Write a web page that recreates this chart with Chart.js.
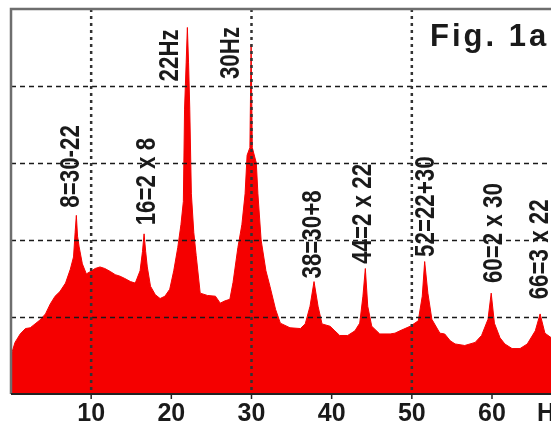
<!DOCTYPE html>
<html>
<head>
<meta charset="utf-8">
<title>Fig. 1a spectrum</title>
<script src="https://cdn.jsdelivr.net/npm/chart.js@4.4.1/dist/chart.umd.min.js"></script>
<style>
    html, body { margin: 0; padding: 0; background: #ffffff; overflow: hidden; }
    canvas { display: block; }
</style>
</head>
<body>
<canvas id="spectrumChart" width="551" height="434"></canvas>
<script>
// Spectrum values (frequency in Hz, amplitude in grid units)
const freqs = [
    0, 0.5, 1.15, 1.8, 2.4, 3.0, 3.6, 4.3, 4.9, 5.5, 6.1, 6.8, 7.4, 7.8, 8.0, 8.15, 8.3, 8.5, 8.9, 9.4,
    9.9, 10.5, 11.1, 11.7, 12.4, 13.0, 13.6, 14.2, 14.9, 15.5, 16.1, 16.4, 16.6, 16.8, 17.0, 17.4, 18.0, 18.6, 19.2, 19.8,
    20.3, 20.8, 21.2, 21.5, 21.65, 21.85, 22.0, 22.15, 22.3, 22.5, 22.8, 23.1, 23.6, 24.5, 25.5, 26.1, 26.7, 27.3, 27.7, 28.3,
    28.8, 29.2, 29.45, 29.8, 29.95, 30.1, 30.6, 30.8, 31.2, 31.8, 32.3, 33.0, 33.6, 34.8, 36.1, 36.7, 37.3, 37.8, 38.3, 38.8,
    39.8, 40.4, 41.0, 42.0, 42.9, 43.5, 43.9, 44.2, 44.5, 45.0, 46.0, 47.3, 47.9, 48.5, 49.8, 50.8, 51.3, 51.6, 52.0, 52.5,
    53.5, 54.1, 54.8, 55.4, 56.6, 57.9, 58.7, 59.5, 59.9, 60.3, 61.0, 61.6, 62.5, 63.5, 64.4, 65.4, 66.0, 66.6, 67.4
];
const amps = [
    0.50, 0.67, 0.78, 0.85, 0.86, 0.91, 0.96, 1.04, 1.17, 1.27, 1.33, 1.44, 1.62, 1.78, 2.10, 2.32, 2.05, 1.91, 1.69, 1.56,
    1.59, 1.63, 1.65, 1.63, 1.59, 1.55, 1.53, 1.50, 1.46, 1.44, 1.60, 1.85, 2.08, 1.85, 1.65, 1.40, 1.29, 1.24, 1.27, 1.36,
    1.60, 1.90, 2.20, 2.50, 3.70, 4.30, 4.76, 4.30, 3.70, 2.60, 2.10, 1.80, 1.31, 1.28, 1.27, 1.18, 1.21, 1.23, 1.45, 1.90,
    2.20, 2.60, 3.10, 3.20, 4.54, 3.20, 3.00, 2.60, 2.00, 1.60, 1.40, 1.10, 0.92, 0.86, 0.85, 0.91, 1.14, 1.46, 1.14, 0.91,
    0.88, 0.82, 0.76, 0.76, 0.82, 0.92, 1.27, 1.63, 1.14, 0.88, 0.78, 0.78, 0.79, 0.82, 0.88, 0.95, 1.27, 1.72, 1.31, 0.97,
    0.79, 0.78, 0.69, 0.65, 0.63, 0.67, 0.76, 0.97, 1.31, 0.92, 0.73, 0.65, 0.59, 0.59, 0.65, 0.82, 1.04, 0.79, 0.73
];

// Axis ticks
const xTicks = [10, 20, 30, 40, 50, 60];
const xGridAt = [10, 30, 50];
const yGridAt = [1, 2, 3, 4];

// Peak annotations: text, anchor frequency and the amplitude where the text starts
const peakLabels = ['8=30-22', '16=2 x 8', '22Hz', '30Hz', '38=30+8', '44=2 x 22', '52=22+30', '60=2 x 30', '66=3 x 22'];
const peakLabelHz = [7.6, 17.0, 19.9, 27.5, 37.8, 44.0, 51.9, 60.3, 66.0];
const peakLabelAmp = [2.42, 2.19, 4.06, 4.09, 1.50, 1.69, 1.78, 1.44, 1.23];

document.addEventListener('DOMContentLoaded', function() {
    const points = freqs.map((f, i) => ({ x: f, y: amps[i] }));

    // Draws the frame, dashed grid (over the red fill), tick marks and texts
    const overlayPlugin = {
        id: 'overlay',
        afterDatasetsDraw(chart) {
            const ctx = chart.ctx;
            const area = chart.chartArea;
            const xs = chart.scales.x;
            const ys = chart.scales.y;

            ctx.save();

            // horizontal dashed grid
            ctx.strokeStyle = '#1a1a1a';
            ctx.lineWidth = 1.6;
            ctx.setLineDash([5, 4]);
            yGridAt.forEach(v => {
                const y = Math.round(ys.getPixelForValue(v)) + 0.5;
                ctx.beginPath();
                ctx.moveTo(area.left, y);
                ctx.lineTo(area.right, y);
                ctx.stroke();
            });

            // vertical dotted grid
            ctx.strokeStyle = '#333333';
            ctx.lineWidth = 2.5;
            ctx.setLineDash([3, 4]);
            xGridAt.forEach(v => {
                const x = xs.getPixelForValue(v);
                ctx.beginPath();
                ctx.moveTo(x, area.top);
                ctx.lineTo(x, area.bottom);
                ctx.stroke();
            });
            ctx.setLineDash([]);

            // frame: left and top in grey, bottom axis in black
            ctx.strokeStyle = '#6e6e6e';
            ctx.lineWidth = 2.5;
            ctx.beginPath();
            ctx.moveTo(area.left, area.bottom);
            ctx.lineTo(area.left, area.top);
            ctx.lineTo(area.right, area.top);
            ctx.stroke();

            ctx.strokeStyle = '#222222';
            ctx.lineWidth = 2;
            ctx.beginPath();
            ctx.moveTo(area.left, area.bottom);
            ctx.lineTo(area.right, area.bottom);
            ctx.stroke();

            // small tick marks under the axis
            ctx.lineWidth = 1.5;
            xTicks.forEach(v => {
                const x = xs.getPixelForValue(v);
                ctx.beginPath();
                ctx.moveTo(x, area.bottom);
                ctx.lineTo(x, area.bottom + 5);
                ctx.stroke();
            });

            // unit label, cut off at the right edge like the original
            ctx.fillStyle = '#1a1a1a';
            ctx.font = 'bold 25px "Liberation Sans", Arial, sans-serif';
            ctx.textBaseline = 'middle';
            ctx.textAlign = 'left';
            ctx.fillText('Hz', area.right - 14, area.bottom + 20);

            // figure title
            ctx.font = 'bold 31px "Liberation Sans", Arial, sans-serif';
            ctx.textBaseline = 'alphabetic';
            ctx.letterSpacing = '3px';
            ctx.fillText('Fig. 1a', 430, 46);
            ctx.letterSpacing = '0px';

            // rotated peak annotations (slightly condensed like the original lettering)
            ctx.font = 'bold 24px "Liberation Sans", Arial, sans-serif';
            ctx.textAlign = 'left';
            ctx.textBaseline = 'middle';
            peakLabels.forEach((text, i) => {
                const x = xs.getPixelForValue(peakLabelHz[i]);
                const y = ys.getPixelForValue(peakLabelAmp[i]);
                ctx.save();
                ctx.translate(x, y);
                ctx.rotate(-Math.PI / 2);
                ctx.scale(0.93, 1.12);
                ctx.fillText(text, 0, 0);
                ctx.restore();
            });

            ctx.restore();
        }
    };

    new Chart(document.getElementById('spectrumChart'), {
        type: 'line',
        data: {
            datasets: [{
                data: points,
                borderColor: '#f50000',
                backgroundColor: '#f50000',
                borderWidth: 1,
                fill: 'origin',
                tension: 0,
                pointRadius: 0
            }]
        },
        options: {
            responsive: false,
            animation: false,
            events: [],
            layout: {
                padding: { left: 11, top: 9, right: 0, bottom: 0 }
            },
            plugins: {
                legend: { display: false },
                tooltip: { enabled: false }
            },
            scales: {
                x: {
                    type: 'linear',
                    min: 0,
                    max: 67.36,
                    afterBuildTicks: function(scale) {
                        scale.ticks = xTicks.map(v => ({ value: v }));
                    },
                    grid: { display: false, drawTicks: false },
                    border: { display: false },
                    ticks: {
                        padding: 5,
                        color: '#1a1a1a',
                        maxRotation: 0,
                        autoSkip: false,
                        font: { family: '"Liberation Sans", Arial, sans-serif', size: 25, weight: 'bold' }
                    }
                },
                y: {
                    display: false,
                    min: 0,
                    max: 5
                }
            }
        },
        plugins: [overlayPlugin]
    });
});
</script>
</body>
</html>
